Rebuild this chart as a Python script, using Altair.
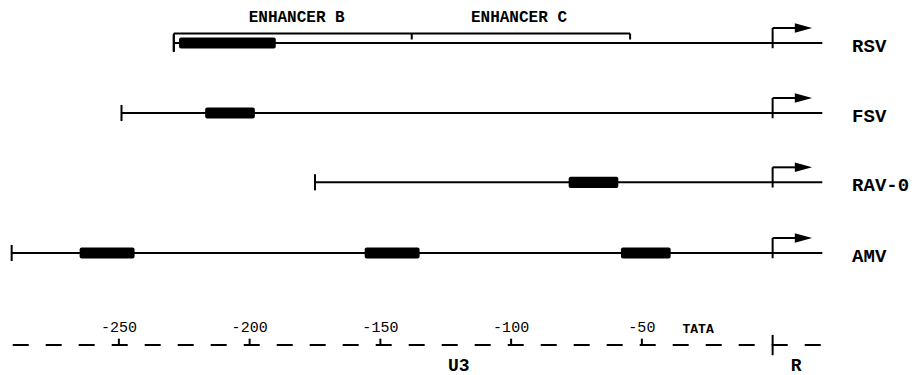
import altair as alt
import pandas as pd

# ---- data (bp positions relative to the R boundary / cap site) ----
rows = ["RSV", "FSV", "RAV-0", "AMV"]
row_track = [0.0, 1.0, 1.99, 3.0]
row_start = [-229, -249, -175, -291]
row_end = [19, 19, 19, 19]

box_row = ["RSV", "FSV", "RAV-0", "AMV", "AMV", "AMV"]
box_start = [-227, -217, -78, -265, -156, -58]
box_end = [-190, -198, -59, -244, -135, -39]

enh_names = ["ENHANCER B", "ENHANCER C"]
enh_start = [-229, -138]
enh_end = [-138, -54.5]

tick_values = [-250, -200, -150, -100, -50]
tick_labels = ["-250", "-200", "-150", "-100", "-50"]

axis_start, axis_end = -290.6, 19.3
region_names = ["U3", "R"]
region_pos = [-120, 9]

FONT = "Liberation Mono"

track_of = dict(zip(rows, row_track))

xs = alt.Scale(domain=[-292.4, 53.3], nice=False, zero=False)
ys = alt.Scale(domain=[-0.5, 4.6286], nice=False, zero=False, reverse=True)
X = lambda f: alt.X(f, type="quantitative", scale=xs, axis=None)
Y = lambda f: alt.Y(f, type="quantitative", scale=ys, axis=None)

rows_df = pd.DataFrame({
    "name": rows, "t": row_track, "start": row_start, "end": row_end,
})
rows_df["cap_lo"] = rows_df["t"] - 0.115
rows_df["cap_hi"] = rows_df["t"] + 0.115
rows_df["tss_top"] = rows_df["t"] - 0.214
rows_df["tss_bot"] = rows_df["t"] + 0.075
rows_df["zero"] = 0
rows_df["shaft_end"] = 9.5
rows_df["head_x"] = 11.8
rows_df["label_x"] = 30.4

boxes_df = pd.DataFrame({"row": box_row, "start": box_start, "end": box_end})
boxes_df["t"] = boxes_df["row"].map(track_of)
boxes_df["lo"] = boxes_df["t"] - 0.08
boxes_df["hi"] = boxes_df["t"] + 0.08

lines = alt.Chart(rows_df).mark_rule(color="black", strokeWidth=2).encode(
    x=X("start"), x2="end", y=Y("t"))
caps = alt.Chart(rows_df).mark_rule(color="black", strokeWidth=2).encode(
    x=X("start"), y=Y("cap_lo"), y2="cap_hi")
boxes = alt.Chart(boxes_df).mark_rect(color="black", cornerRadius=2).encode(
    x=X("start"), x2="end", y=Y("lo"), y2="hi")
tss = alt.Chart(rows_df).mark_rule(color="black", strokeWidth=2).encode(
    x=X("zero"), y=Y("tss_top"), y2="tss_bot")
shaft = alt.Chart(rows_df).mark_rule(color="black", strokeWidth=2).encode(
    x=X("zero"), x2="shaft_end", y=Y("tss_top"))
head = alt.Chart(rows_df).mark_point(
    shape="M-1,-0.55L1,0L-1,0.55Z", filled=True, color="black", opacity=1, size=300
).encode(x=X("head_x"), y=Y("tss_top"))
row_labels = alt.Chart(rows_df).mark_text(
    align="left", baseline="middle", font=FONT, fontSize=19, fontWeight="bold",
    color="black", dy=3
).encode(x=X("label_x"), y=Y("t"), text="name")

# enhancer bracket
br_y = -0.136
enh_df = pd.DataFrame({"name": enh_names, "start": enh_start, "end": enh_end})
enh_df["y"] = br_y
enh_df["label_y"] = -0.371
enh_df["mid"] = [-182, -97]
bracket = alt.Chart(enh_df).mark_rule(color="black", strokeWidth=2).encode(
    x=X("start"), x2="end", y=Y("y"))
btick_df = pd.DataFrame({"x": [enh_start[0], enh_start[1], enh_end[1]],
                         "y1": [br_y] * 3, "y2": [0.13, -0.05, -0.05]})
bticks = alt.Chart(btick_df).mark_rule(color="black", strokeWidth=2).encode(
    x=X("x"), y=Y("y1"), y2="y2")
enh_labels = alt.Chart(enh_df).mark_text(
    align="center", baseline="middle", font=FONT, fontSize=16, fontWeight="bold",
    color="black"
).encode(x=X("mid"), y=Y("label_y"), text="name")

# bottom scale
ax_y = 4.314
axis_df = pd.DataFrame({"s": [axis_start], "e": [axis_end], "y": [ax_y]})
axis_line = alt.Chart(axis_df).mark_rule(
    color="black", strokeWidth=2, strokeDash=[16, 17]).encode(
    x=X("s"), x2="e", y=Y("y"))
ticks_df = pd.DataFrame({"v": tick_values, "lab": tick_labels})
ticks_df["y1"] = ax_y
ticks_df["y2"] = ax_y - 0.09
ticks_df["ly"] = 4.057
ticks = alt.Chart(ticks_df).mark_rule(color="black", strokeWidth=2).encode(
    x=X("v"), y=Y("y1"), y2="y2")
tick_text = alt.Chart(ticks_df).mark_text(
    align="center", baseline="middle", font=FONT, fontSize=15, color="black"
).encode(x=X("v"), y=Y("ly"), text="lab")
div_df = pd.DataFrame({"x": [0], "y1": [4.17], "y2": [4.46]})
divider = alt.Chart(div_df).mark_rule(color="black", strokeWidth=2).encode(
    x=X("x"), y=Y("y1"), y2="y2")
tata_df = pd.DataFrame({"x": [-28.5], "y": [4.086], "lab": ["TATA"]})
tata = alt.Chart(tata_df).mark_text(
    align="center", baseline="middle", font=FONT, fontSize=13, fontWeight="bold",
    color="black").encode(x=X("x"), y=Y("y"), text="lab")
reg_df = pd.DataFrame({"x": region_pos, "lab": region_names, "y": [4.614, 4.614]})
regions = alt.Chart(reg_df).mark_text(
    align="center", baseline="middle", font=FONT, fontSize=18, fontWeight="bold",
    color="black").encode(x=X("x"), y=Y("y"), text="lab")

chart = alt.layer(
    lines, caps, boxes, tss, shaft, head, row_labels,
    bracket, bticks, enh_labels,
    axis_line, ticks, tick_text, divider, tata, regions,
).properties(
    width=904, height=359,
    padding={"left": 0, "top": 0, "right": 0, "bottom": 8},
    autosize=alt.AutoSizeParams(type="none"),
    background="white",
).configure_view(stroke=None)

chart.save("out.html", embed_options={"renderer": "svg", "actions": False})
